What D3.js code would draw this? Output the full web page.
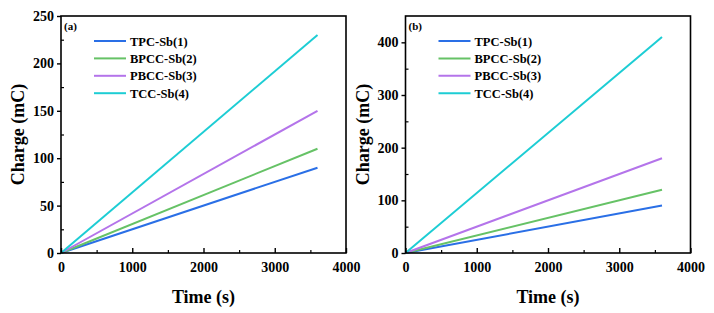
<!DOCTYPE html>
<html><head>
<meta charset="utf-8">
<script src="https://d3js.org/d3.v7.min.js"></script>
<style>
  body { margin: 0; background: #fff; }
  svg text { font-family: "Liberation Serif", "Times New Roman", serif; font-weight: bold; fill: #000; }
</style>
</head>
<body>
<svg id="chart" width="714" height="313"></svg>
<script>
// data
const seriesNames = ["TPC-Sb(1)", "BPCC-Sb(2)", "PBCC-Sb(3)", "TCC-Sb(4)"];
const seriesColors = ["#2a6fe6", "#66c266", "#b474ea", "#1dcdd4"];
const timePoints = [0, 3600];
// panel (a)
const chargeA = [
  [0, 90],
  [0, 110],
  [0, 150],
  [0, 230]
];
// panel (b)
const chargeB = [
  [0, 90],
  [0, 120],
  [0, 180],
  [0, 410]
];
const xTicks = [0, 1000, 2000, 3000, 4000];
const yTicksA = [0, 50, 100, 150, 200, 250];
const yTicksB = [0, 100, 200, 300, 400];

const svg = d3.select("#chart");

function drawPanel(opt) {
  const g = svg.append("g");
  const x = d3.scaleLinear().domain([0, 4000]).range([opt.left, opt.right]);
  const y = d3.scaleLinear().domain([0, opt.yMax]).range([opt.bottom, opt.top]);

  // lines first so the frame sits on top
  const line = d3.line().x((d, i) => x(timePoints[i])).y(d => y(d));
  opt.values.forEach((vals, k) => {
    g.append("path")
      .attr("d", line(vals))
      .attr("fill", "none")
      .attr("stroke", seriesColors[k])
      .attr("stroke-width", 2);
  });

  // frame
  g.append("rect")
    .attr("x", opt.left).attr("y", opt.top)
    .attr("width", opt.right - opt.left).attr("height", opt.bottom - opt.top)
    .attr("fill", "none").attr("stroke", "#000").attr("stroke-width", 1.6);

  // x axis: inward ticks
  const xAxis = d3.axisBottom(x).tickValues(xTicks).tickSize(-5).tickPadding(9).tickFormat(d3.format("d"));
  const xa = g.append("g").attr("transform", "translate(0," + opt.bottom + ")").call(xAxis);
  xa.select(".domain").remove();
  xa.selectAll("line").attr("stroke-width", 1.4);
  xa.selectAll("text").style("font-size", "14px").attr("dy", "0.71em");
  const xMinor = d3.axisBottom(x).tickValues([500, 1500, 2500, 3500]).tickSize(-3).tickFormat("");
  const xm = g.append("g").attr("transform", "translate(0," + opt.bottom + ")").call(xMinor);
  xm.select(".domain").remove();
  xm.selectAll("line").attr("stroke-width", 1.2);

  // y axis: outward major, inward minor
  const yAxis = d3.axisLeft(y).tickValues(opt.yTicks).tickSize(4).tickPadding(3);
  const ya = g.append("g").attr("transform", "translate(" + opt.left + ",0)").call(yAxis);
  ya.select(".domain").remove();
  ya.selectAll("line").attr("stroke-width", 1.4);
  ya.selectAll("text").style("font-size", "14px");
  const minorY = opt.yTicks.slice(0, -1).map((v, i) => v + (opt.yTicks[1] - opt.yTicks[0]) / 2)
    .filter(v => v < opt.yMax);
  const yMinor = d3.axisLeft(y).tickValues(minorY).tickSize(-3).tickFormat("");
  const ym = g.append("g").attr("transform", "translate(" + opt.left + ",0)").call(yMinor);
  ym.select(".domain").remove();
  ym.selectAll("line").attr("stroke-width", 1.2);

  // axis titles
  g.append("text")
    .attr("x", (opt.left + opt.right) / 2).attr("y", 303)
    .attr("text-anchor", "middle").style("font-size", "18px")
    .text("Time (s)");
  g.append("text")
    .attr("transform", "translate(" + (opt.left - 37) + "," + ((opt.top + opt.bottom) / 2) + ") rotate(-90)")
    .attr("text-anchor", "middle").style("font-size", "18px")
    .text("Charge (mC)");

  // panel label
  g.append("text")
    .attr("x", opt.left + 3).attr("y", opt.top + 14)
    .style("font-size", "11px")
    .text(opt.label);

  // legend
  seriesNames.forEach((name, k) => {
    const ly = 41 + k * 17.4;
    g.append("line")
      .attr("x1", opt.left + 33).attr("x2", opt.left + 65)
      .attr("y1", ly).attr("y2", ly)
      .attr("stroke", seriesColors[k]).attr("stroke-width", 2);
    g.append("text")
      .attr("x", opt.left + 69).attr("y", ly + 4.5)
      .style("font-size", "12.5px")
      .text(name);
  });
}

drawPanel({ left: 61, right: 346, top: 16, bottom: 253, yMax: 250, yTicks: yTicksA, values: chargeA, label: "(a)" });
drawPanel({ left: 405.5, right: 690.5, top: 16, bottom: 253, yMax: 450, yTicks: yTicksB, values: chargeB, label: "(b)" });
</script>
</body>
</html>
